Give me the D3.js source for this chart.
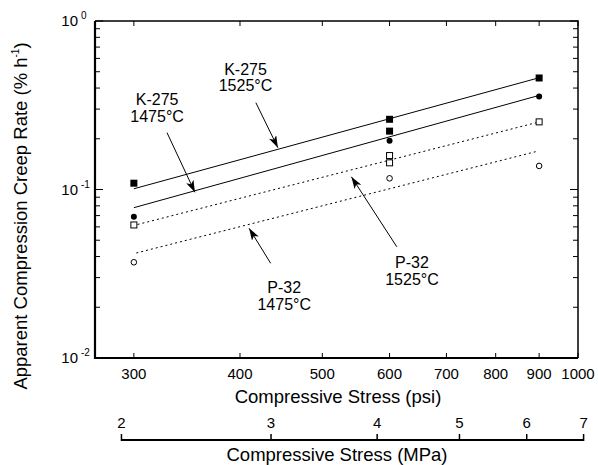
<!DOCTYPE html>
<html>
<head>
<meta charset="utf-8">
<script src="https://cdn.jsdelivr.net/npm/d3@7"></script>
<style>
  body { margin: 0; background: #fff; }
  text { font-family: "Liberation Sans", Arial, Helvetica, sans-serif; fill: #000; }
</style>
</head>
<body>
<svg id="chart" width="598" height="465"></svg>
<script>
// measured creep rates (% per hour) vs compressive stress (psi)
const k275_1525 = [[300, 0.109], [600, 0.261], [600, 0.222], [900, 0.459]];
const k275_1475 = [[300, 0.069], [600, 0.195], [900, 0.357]];
const p32_1525 = [[300, 0.0616], [600, 0.159], [600, 0.144], [900, 0.252]];
const p32_1475 = [[300, 0.037], [600, 0.1165], [900, 0.138]];

// fitted power-law lines (end points)
const fitK1525 = [[300, 0.101], [895, 0.457]];
const fitK1475 = [[300, 0.078], [895, 0.359]];
const fitP1525 = [[303, 0.062], [895, 0.25]];
const fitP1475 = [[302, 0.042], [893, 0.168]];

// axis ticks
const psiTicks = [300, 400, 500, 600, 700, 800, 900, 1000];
const rateMajor = [0.01, 0.1, 1];
const rateExp = ["-2", "-1", "0"];
const mpaTicks = [2, 3, 4, 5, 6, 7];
const PSI_PER_MPA = 145.038;

// annotations: label lines, label centre, arrow tail and tip (psi, rate)
const notes = [
  { lines: ["K-275", "1525°C"], at: [406, 0.519], tail: [417.6, 0.3275], tip: [443.3, 0.177] },
  { lines: ["K-275", "1475°C"], at: [319.5, 0.344], tail: [328.2, 0.2174], tip: [354, 0.0962] },
  { lines: ["P-32", "1475°C"], at: [451, 0.02638], tail: [434.7, 0.03648], tip: [410, 0.0588] },
  { lines: ["P-32", "1525°C"], at: [637.6, 0.037], tail: [611.9, 0.0457], tip: [541, 0.119] }
];

const svg = d3.select('#chart');
const pl = 95, pr = 578, pt = 21, pb = 358;

const x = d3.scaleLog().domain([270, 1000]).range([pl, pr]);
const y = d3.scaleLog().domain([0.01, 1]).range([pb, pt]);

// arrow head
svg.append('defs').append('marker')
  .attr('id', 'head')
  .attr('viewBox', '0 0 12 8')
  .attr('refX', 12).attr('refY', 4)
  .attr('markerWidth', 12).attr('markerHeight', 8)
  .attr('markerUnits', 'userSpaceOnUse')
  .attr('orient', 'auto')
  .append('path').attr('d', 'M0,0 L12,4 L0,8 L3,4 Z').attr('fill', '#000');

// minor y ticks inside on both sides
const minor = [];
[0.01, 0.1].forEach(d => { for (let k = 2; k <= 9; k++) minor.push(d * k); });

const g = svg.append('g');
g.selectAll('.ymin').data(minor).join('path')
  .attr('d', d => `M${pl},${y(d)}h5M${pr},${y(d)}h-5`)
  .attr('stroke', '#000').attr('stroke-width', 1);
g.selectAll('.ymaj').data(rateMajor).join('path')
  .attr('d', d => `M${pl},${y(d)}h8M${pr},${y(d)}h-8`)
  .attr('stroke', '#000').attr('stroke-width', 1);
g.selectAll('.xt').data(psiTicks).join('path')
  .attr('d', d => `M${x(d)},${pt}v5M${x(d)},${pb}v-5`)
  .attr('stroke', '#000').attr('stroke-width', 1);

// frame
g.append('path').attr('d', `M${pl},${pt}H${pr}V${pb}`)
  .attr('fill', 'none').attr('stroke', '#000').attr('stroke-width', 1.5);
g.append('path').attr('d', `M${pl},${pt}V${pb}H${pr}`)
  .attr('fill', 'none').attr('stroke', '#000').attr('stroke-width', 2.2);

// y tick labels 10^n
g.selectAll('.ylab').data(rateMajor).join('text')
  .attr('x', 78).attr('y', d => y(d) + 5)
  .attr('text-anchor', 'end').attr('font-size', 15)
  .text('10');
g.selectAll('.yexp').data(rateMajor).join('text')
  .attr('x', 81).attr('y', d => y(d) - 2)
  .attr('font-size', 10)
  .text((d, i) => rateExp[i]);

// x tick labels
g.selectAll('.xlab').data(psiTicks).join('text')
  .attr('x', d => x(d)).attr('y', 379)
  .attr('text-anchor', 'middle').attr('font-size', 15)
  .text(d => d);

g.append('text').attr('x', 338).attr('y', 403)
  .attr('text-anchor', 'middle').attr('font-size', 18.5)
  .text('Compressive Stress (psi)');

// y title
const yt = g.append('text')
  .attr('transform', 'translate(27,216) rotate(-90)')
  .attr('text-anchor', 'middle').attr('font-size', 18.5);
yt.append('tspan').text('Apparent Compression Creep Rate (% h');
yt.append('tspan').attr('font-size', 10).attr('dy', -8).text('-1');
yt.append('tspan').attr('dy', 8).text(')');

// secondary MPa axis
const xm = d => x(d * PSI_PER_MPA);
g.append('path')
  .attr('d', `M${xm(2)},${440}H${xm(7)}`)
  .attr('stroke', '#000').attr('stroke-width', 2.2);
g.selectAll('.mt').data(mpaTicks).join('path')
  .attr('d', d => `M${xm(d)},441v-7`)
  .attr('stroke', '#000').attr('stroke-width', 1.5);
g.selectAll('.ml').data(mpaTicks).join('text')
  .attr('x', d => xm(d)).attr('y', 428)
  .attr('text-anchor', 'middle').attr('font-size', 15)
  .text(d => d);
g.append('text').attr('x', 337).attr('y', 461)
  .attr('text-anchor', 'middle').attr('font-size', 18.5)
  .text('Compressive Stress (MPa)');

// fit lines
const line = d3.line().x(d => x(d[0])).y(d => y(d[1]));
[[fitK1525, null], [fitK1475, null], [fitP1525, '2,3'], [fitP1475, '2,3']].forEach(([pts, dash]) => {
  g.append('path').attr('d', line(pts))
    .attr('fill', 'none').attr('stroke', '#000').attr('stroke-width', 1)
    .attr('stroke-dasharray', dash);
});

// markers
const sq = 7;
g.selectAll('.fsq').data(k275_1525).join('rect')
  .attr('x', d => x(d[0]) - sq / 2).attr('y', d => y(d[1]) - sq / 2)
  .attr('width', sq).attr('height', sq).attr('fill', '#000');
g.selectAll('.fci').data(k275_1475).join('circle')
  .attr('cx', d => x(d[0])).attr('cy', d => y(d[1])).attr('r', 3).attr('fill', '#000');
g.selectAll('.osq').data(p32_1525).join('rect')
  .attr('x', d => x(d[0]) - 3).attr('y', d => y(d[1]) - 3)
  .attr('width', 6).attr('height', 6)
  .attr('fill', '#fff').attr('stroke', '#000').attr('stroke-width', 1);
g.selectAll('.oci').data(p32_1475).join('circle')
  .attr('cx', d => x(d[0])).attr('cy', d => y(d[1])).attr('r', 2.8)
  .attr('fill', '#fff').attr('stroke', '#000').attr('stroke-width', 1);

// annotations
notes.forEach(n => {
  g.append('line')
    .attr('x1', x(n.tail[0])).attr('y1', y(n.tail[1]))
    .attr('x2', x(n.tip[0])).attr('y2', y(n.tip[1]))
    .attr('stroke', '#000').attr('stroke-width', 1)
    .attr('marker-end', 'url(#head)');
  n.lines.forEach((s, i) => {
    g.append('text')
      .attr('x', x(n.at[0])).attr('y', y(n.at[1]) + 6 + i * 16.5)
      .attr('text-anchor', 'middle').attr('font-size', 16)
      .text(s);
  });
});
</script>
</body>
</html>
